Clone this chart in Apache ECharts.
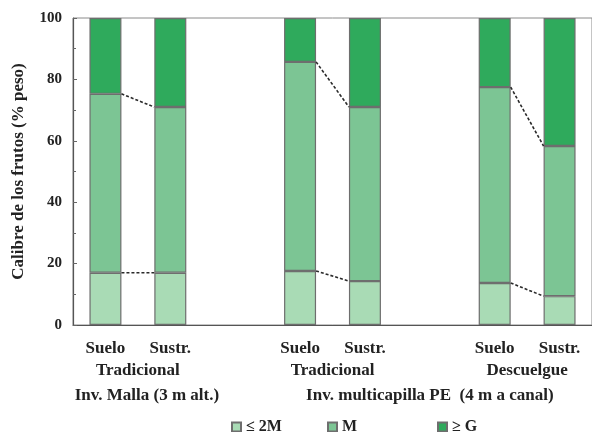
<!DOCTYPE html>
<html><head><meta charset="utf-8">
<script src="https://cdn.jsdelivr.net/npm/echarts@6/dist/echarts.min.js"></script>
<style>html,body{margin:0;padding:0;background:#fff}#c{width:592px;height:432px}</style>
</head><body><div id="c"></div>
<script>
// ---- data ----
const categories = ['Suelo', 'Sustr.', '', 'Suelo', 'Sustr.', '', 'Suelo', 'Sustr.'];
const small  = [17, 17, null, 17.6, 14.3, null, 13.7, 9.4];      // ≤ 2M
const medium = [58.3, 54, null, 68.1, 56.7, null, 63.8, 48.9];   // M
const large  = [24.7, 29, null, 14.3, 29, null, 22.5, 41.7];     // ≥ G
const seriesNames = ['≤ 2M', 'M', '≥ G'];
const systems = ['Tradicional', 'Tradicional', 'Descuelgue'];
const houses = ['Inv. Malla (3 m alt.)', 'Inv. multicapilla PE  (4 m a canal)'];
const yTicks = [0, 20, 40, 60, 80, 100];

// pairs of bars (category indices) compared by dashed lines
const pairs = [[0, 1], [3, 4], [6, 7]];
const housePairs = [[0, 1], [3, 7]];

const FONT = 'Liberation Serif';
const colors = ['#a9dbb5', '#7cc594', '#2faa5c'];
const BAR_W = 32;
const legendLefts = [226, 322, 432];

const chart = echarts.init(document.getElementById('c'), null, {renderer: 'canvas'});

function barSeries(name, data, color) {
  return {
    name, type: 'bar', stack: 'all', data, barWidth: BAR_W,
    itemStyle: {color, borderColor: '#6e6e6e', borderWidth: 1.2},
    emphasis: {disabled: true}
  };
}

chart.setOption({
  animation: false,
  backgroundColor: '#fff',
  grid: {left: 73, top: 18, right: -9, bottom: 107, show: true, borderColor: '#8a8a8a', borderWidth: 1, containLabel: false},
  legend: seriesNames.map((n, i) => ({
    data: [n],
    left: legendLefts[i], top: 414,
    itemWidth: 9, itemHeight: 9,
    icon: 'rect', selectedMode: false,
    textStyle: {fontFamily: FONT, fontWeight: 'bold', fontSize: 16, color: '#222'}
  })),
  xAxis: {
    type: 'category', data: categories,
    axisLine: {lineStyle: {color: '#555', width: 1.2}},
    axisTick: {show: false},
    axisLabel: {interval: 0, margin: 15, fontFamily: FONT, fontWeight: 'bold', fontSize: 17, color: '#222'}
  },
  yAxis: {
    type: 'value', min: 0, max: 100, interval: 20,
    name: 'Calibre de los frutos (% peso)', nameLocation: 'middle', nameGap: 46,
    nameTextStyle: {fontFamily: FONT, fontWeight: 'bold', fontSize: 17, color: '#222'},
    axisLine: {show: true, lineStyle: {color: '#555', width: 1.2}},
    axisTick: {show: true, inside: true, length: 4, lineStyle: {color: '#666'}},
    minorTick: {show: true, splitNumber: 2, length: 3, lineStyle: {color: '#666'}},
    splitLine: {show: false},
    axisLabel: {margin: 11, fontFamily: FONT, fontWeight: 'bold', fontSize: 15, color: '#222',
      formatter: v => yTicks.includes(v) ? String(v) : ''}
  },
  series: [
    barSeries(seriesNames[0], small, colors[0]),
    barSeries(seriesNames[1], medium, colors[1]),
    barSeries(seriesNames[2], large, colors[2]),
    {
      type: 'custom', clip: false, z: 10, silent: true,
      data: pairs.map(p => [p[0], 0, p[1]]),
      encode: {x: 0, y: 1},
      renderItem: function (params, api) {
        const a = pairs[params.dataIndex][0], b = pairs[params.dataIndex][1];
        const levels = [[small[a], small[b]], [small[a] + medium[a], small[b] + medium[b]]];
        const children = levels.map(l => {
          const p1 = api.coord([a, l[0]]), p2 = api.coord([b, l[1]]);
          return {
            type: 'line',
            shape: {x1: p1[0] + BAR_W / 2, y1: p1[1], x2: p2[0] - BAR_W / 2, y2: p2[1]},
            style: {stroke: '#2a2a2a', lineWidth: 1.6, lineDash: [3, 2]}
          };
        });
        return {type: 'group', children};
      }
    },
    {
      type: 'custom', clip: false, z: 10, silent: true,
      data: [0],
      encode: {x: 0, y: 0},
      renderItem: function (params, api) {
        const base = api.coord([0, 0])[1];
        const children = [];
        pairs.forEach((p, i) => {
          const x = (api.coord([p[0], 0])[0] + api.coord([p[1], 0])[0]) / 2;
          children.push({type: 'text', style: {x, y: base + 46, text: systems[i], align: 'center', verticalAlign: 'middle',
            font: 'bold 17px "' + FONT + '"', fill: '#222'}});
        });
        housePairs.forEach((p, i) => {
          const x = (api.coord([p[0], 0])[0] + api.coord([p[1], 0])[0]) / 2 + (i === 0 ? 9 : 0);
          children.push({type: 'text', style: {x, y: base + 71, text: houses[i], align: 'center', verticalAlign: 'middle',
            font: 'bold 17px "' + FONT + '"', fill: '#222'}});
        });
        return {type: 'group', children};
      }
    }
  ]
});
</script>
</body></html>
